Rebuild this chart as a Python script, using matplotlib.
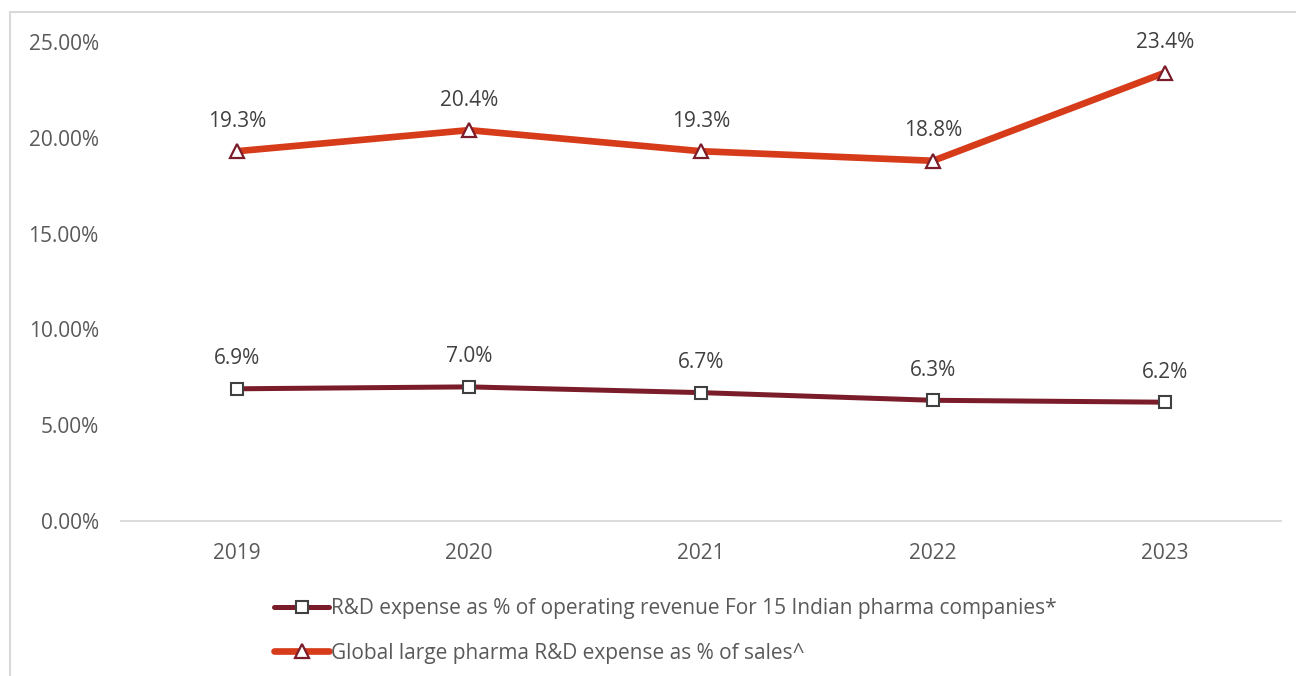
import matplotlib
matplotlib.use('Agg')
import matplotlib.pyplot as plt
from matplotlib.patches import Rectangle
from matplotlib.ticker import FuncFormatter

# Data
years = ['2019', '2020', '2021', '2022', '2023']
india_rd = [6.9, 7.0, 6.7, 6.3, 6.2]
global_rd = [19.3, 20.4, 19.3, 18.8, 23.4]
india_label = 'R&D expense as % of operating revenue For 15 Indian pharma companies*'
global_label = 'Global large pharma R&D expense as % of sales^'

plt.rcParams['font.family'] = ['Open Sans', 'DejaVu Sans']

dark_red = '#7B1C2A'
orange = '#D63B1A'
text_grey = '#595959'
label_grey = '#404040'
fs = 15

fig = plt.figure(figsize=(12.96, 6.76), dpi=100, facecolor='white')

# Light grey frame around the chart area
fig.patches.append(Rectangle((10/1296, -0.01), 1.0, 1 - 12/676 + 0.01,
                             transform=fig.transFigure, fill=False,
                             edgecolor='#D9D9D9', linewidth=1.5))

ax = fig.add_axes([121/1296, 1 - 521/676, 1160/1296, 479/676])
x = range(len(years))

ax.plot(x, india_rd, color=dark_red, linewidth=3.6, marker='s',
        markersize=9, markerfacecolor='white', markeredgecolor=label_grey,
        markeredgewidth=1.5, label=india_label, solid_capstyle='round')
ax.plot(x, global_rd, color=orange, linewidth=4.8, marker='^',
        markersize=10, markerfacecolor='white', markeredgecolor=dark_red,
        markeredgewidth=1.6, label=global_label, solid_capstyle='round')

for xi, v in zip(x, india_rd):
    ax.annotate('%.1f%%' % v, (xi, v), xytext=(0, 14), textcoords='offset points',
                ha='center', va='bottom', fontsize=fs, color=label_grey)
for xi, v in zip(x, global_rd):
    ax.annotate('%.1f%%' % v, (xi, v), xytext=(0, 14), textcoords='offset points',
                ha='center', va='bottom', fontsize=fs, color=label_grey)

ax.set_xlim(-0.5, len(years) - 0.5)
ax.set_ylim(0, 25)
ax.set_yticks([0, 5, 10, 15, 20, 25])
ax.yaxis.set_major_formatter(FuncFormatter(lambda v, p: '%.2f%%' % v))
ax.set_xticks(list(x))
ax.set_xticklabels(years)

for s in ['top', 'right', 'left']:
    ax.spines[s].set_visible(False)
ax.spines['bottom'].set_color('#D9D9D9')
ax.spines['bottom'].set_linewidth(1.3)
ax.tick_params(axis='both', length=0, labelsize=fs, colors=text_grey)
ax.tick_params(axis='y', pad=16)
ax.tick_params(axis='x', pad=16)

leg = fig.legend(loc='upper left', bbox_to_anchor=(264/1296, 1 - 588/676),
                 frameon=False, fontsize=fs, handlelength=2.6,
                 handletextpad=0.12, labelspacing=1.12, borderpad=0)
for t in leg.get_texts():
    t.set_color(text_grey)

fig.savefig('out.png', dpi=100, facecolor='white')
